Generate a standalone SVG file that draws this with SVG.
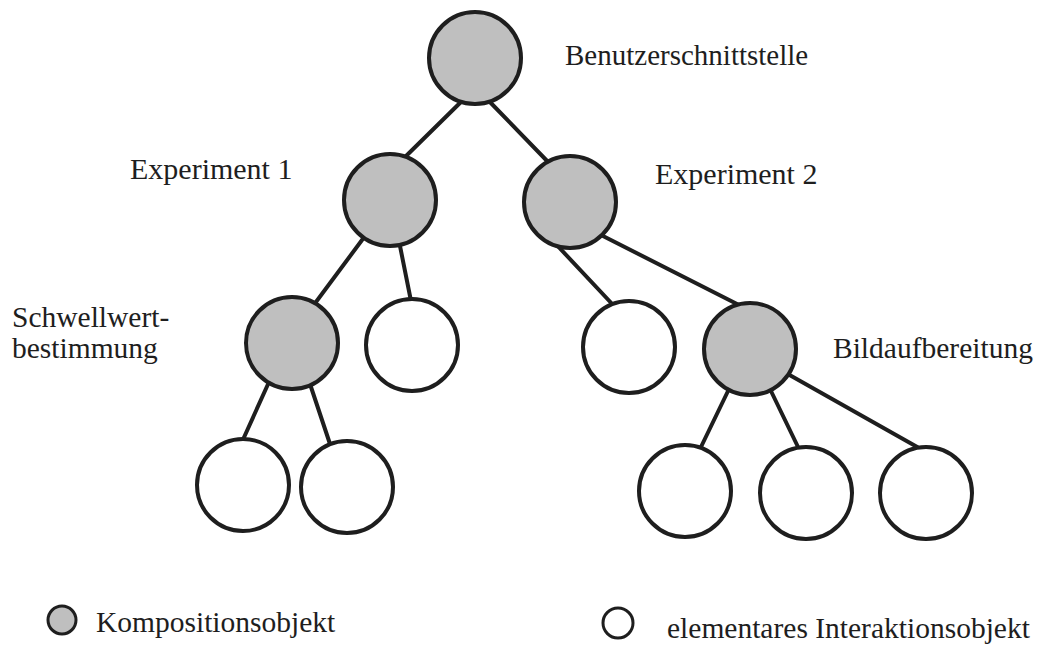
<svg xmlns="http://www.w3.org/2000/svg" width="1039" height="652" viewBox="0 0 1039 652">
<style>
.n{stroke:#1e1e1e;stroke-width:4;fill:#fff}
.c{fill:#bfbfbf}
.e{stroke:#1e1e1e;stroke-width:4;fill:none;stroke-linecap:round}
text{font-family:"Liberation Serif","Times New Roman",serif;font-size:29.5px;fill:#1e1e1e}
</style>
<rect width="1039" height="652" fill="#fff"/>
<g id="connectors" class="e">
<line x1="464" y1="99" x2="403" y2="159"/>
<line x1="487" y1="99" x2="551" y2="165"/>
<line x1="365" y1="236" x2="313" y2="306"/>
<line x1="399" y1="241" x2="411" y2="301"/>
<line x1="553" y1="241" x2="615" y2="307"/>
<line x1="601" y1="235" x2="739" y2="305"/>
<line x1="269" y1="382" x2="241" y2="444"/>
<line x1="310" y1="384" x2="331" y2="447"/>
<line x1="729" y1="389" x2="700" y2="449"/>
<line x1="770" y1="389" x2="799" y2="449"/>
<line x1="786" y1="373" x2="919" y2="448"/>
</g>
<g id="root"><circle class="n c" cx="475" cy="58" r="46"/><text x="565" y="65" style="font-size:29px">Benutzerschnittstelle</text></g>
<g id="exp1"><circle class="n c" cx="390" cy="200" r="46"/><text x="130" y="179" style="font-size:30px">Experiment 1</text></g>
<g id="exp2"><circle class="n c" cx="570" cy="202" r="46"/><text x="655" y="184" style="font-size:30px">Experiment 2</text></g>
<g id="schwell"><circle class="n c" cx="292" cy="343" r="46"/><text x="12" y="327">Schwellwert-</text><text x="12" y="358">bestimmung</text></g>
<g id="e1"><circle class="n" cx="412" cy="345" r="46"/></g>
<g id="e2"><circle class="n" cx="629" cy="347" r="46"/></g>
<g id="bild"><circle class="n c" cx="750" cy="349" r="46"/><text x="833" y="358">Bildaufbereitung</text></g>
<g id="b1"><circle class="n" cx="243" cy="485" r="46"/></g>
<g id="b2"><circle class="n" cx="347" cy="487" r="46"/></g>
<g id="b3"><circle class="n" cx="685" cy="491" r="46"/></g>
<g id="b4"><circle class="n" cx="806" cy="493" r="46"/></g>
<g id="b5"><circle class="n" cx="926" cy="493" r="46"/></g>
<g id="legend1"><circle class="n c" cx="62" cy="620" r="14" style="stroke-width:3"/><text x="96" y="632">Kompositionsobjekt</text></g>
<g id="legend2"><circle class="n" cx="618" cy="623" r="15" style="stroke-width:3"/><text x="667" y="638">elementares Interaktionsobjekt</text></g>
</svg>
